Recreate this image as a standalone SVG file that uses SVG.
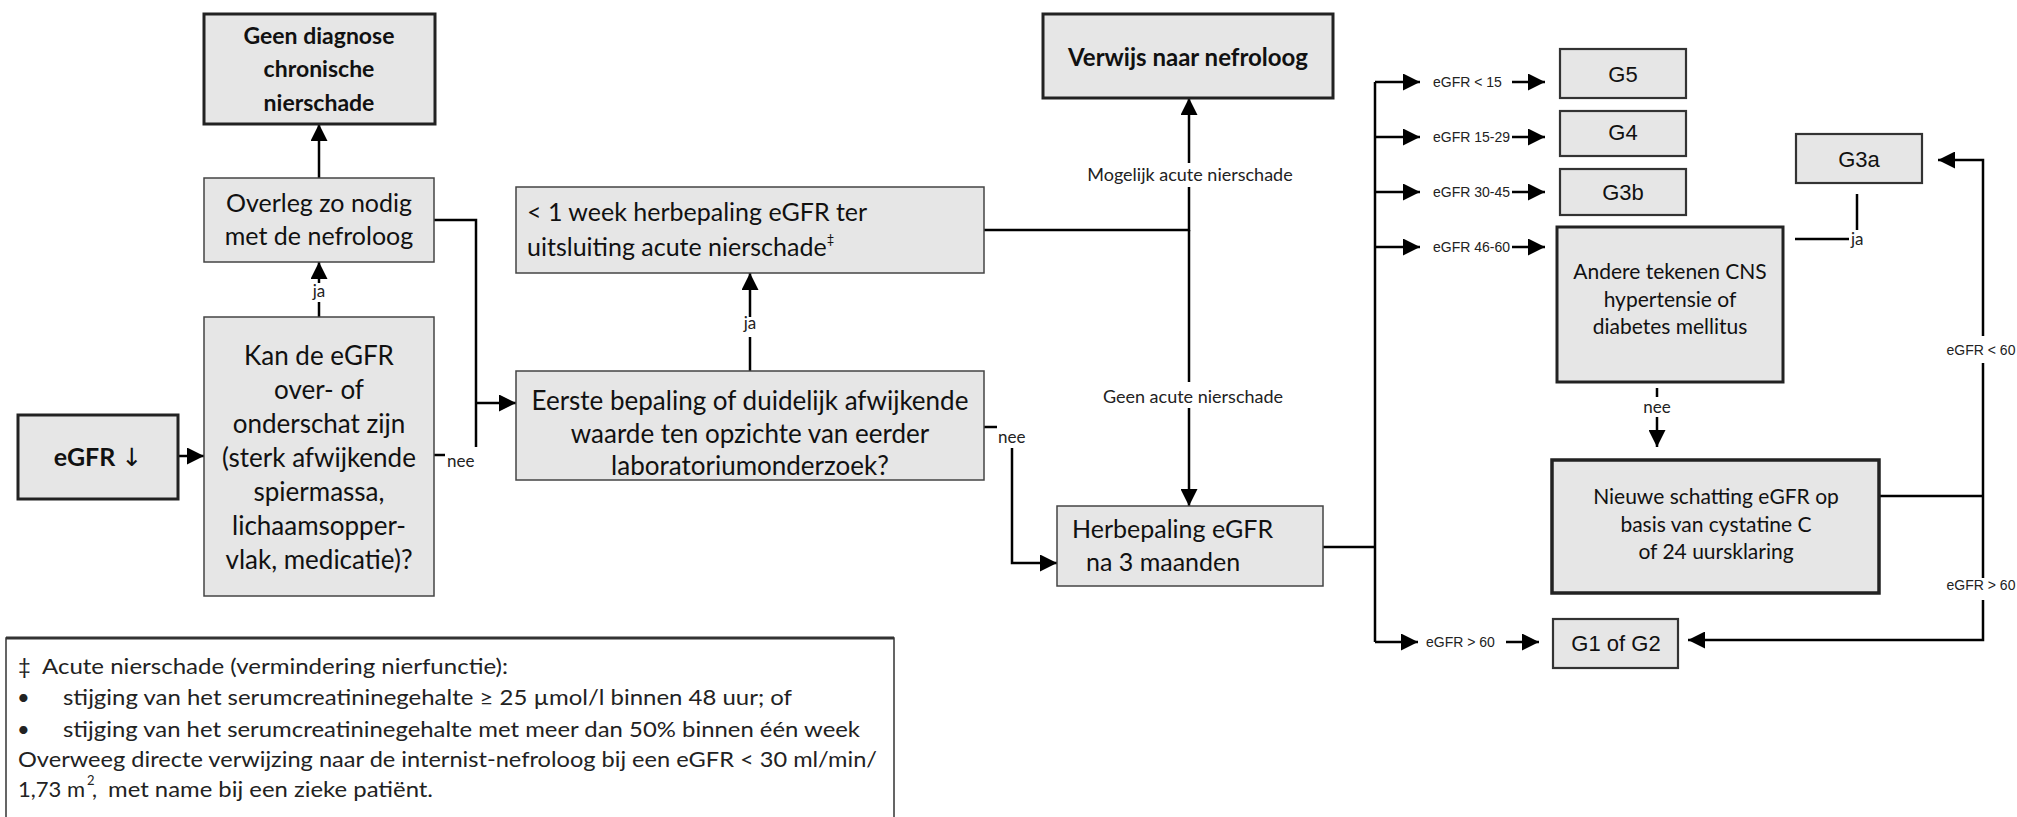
<svg xmlns="http://www.w3.org/2000/svg" width="2017" height="817" viewBox="0 0 2017 817">
<defs>
<marker id="ah" viewBox="0 0 10 10" refX="10" refY="5" markerWidth="17" markerHeight="17" markerUnits="userSpaceOnUse" orient="auto"><path d="M0,0 L10,5 L0,10 z" fill="#000"/></marker>
<style>
.box{fill:#e6e6e6;stroke:#444;stroke-width:1.5}
.bk{fill:#e6e6e6;stroke:#222;stroke-width:3}
.bm{fill:#e6e6e6;stroke:#333;stroke-width:2.2}
text{font-family:Lato,"Liberation Sans",sans-serif;fill:#111}
.t24{font-size:25px}
.t25{font-size:26px}
.t20{font-size:21px}
.bold{font-weight:bold}
.c{text-anchor:middle}
.lbl{font-size:17px;fill:#222}
.sm{font-size:14px;fill:#222;font-family:"Liberation Sans",Arial,sans-serif}
.g{font-size:22px;font-family:"Liberation Sans",Arial,sans-serif}
.fn{font-size:22px;fill:#222}
.ln{fill:none;stroke:#000;stroke-width:2.5}
.arr{fill:none;stroke:#000;stroke-width:2.5;marker-end:url(#ah)}
</style>
</defs>
<rect x="0" y="0" width="2017" height="817" fill="#fff"/>

<g id="connectors">
<path class="arr" d="M319,178 V124"/>
<path class="ln" d="M319,317 V302"/>
<path class="arr" d="M319,283 V262"/>
<text class="lbl c" x="319" y="297">ja</text>
<path class="arr" d="M178,456 H204"/>
<path class="ln" d="M434,220 H476 V447"/>
<path class="ln" d="M434,455 H445"/>
<text class="lbl" x="447" y="467">nee</text>
<path class="arr" d="M476,403 H516"/>
<path class="ln" d="M750,371 V337"/>
<path class="arr" d="M750,317 V273"/>
<text class="lbl c" x="750" y="329">ja</text>
<path class="ln" d="M984,230 H1189 V187"/>
<path class="arr" d="M1189,163 V98"/>
<text class="lbl c" x="1190" y="181" style="font-size:18px">Mogelijk acute nierschade</text>
<path class="ln" d="M1189,230 V382"/>
<path class="arr" d="M1189,408 V506"/>
<text class="lbl c" x="1193" y="403" style="font-size:18px">Geen acute nierschade</text>
<path class="ln" d="M984,427 H997"/>
<text class="lbl" x="998" y="443">nee</text>
<path class="arr" d="M1012,448 V563 H1057"/>
<path class="ln" d="M1323,547 H1375"/>
<path class="ln" d="M1375,82 V642"/>
<path class="arr" d="M1375,82 H1420"/>
<path class="arr" d="M1375,137 H1420"/>
<path class="arr" d="M1375,192 H1420"/>
<path class="arr" d="M1375,247 H1420"/>
<path class="arr" d="M1375,642 H1418"/>
<text class="sm" x="1433" y="87">eGFR &lt; 15</text>
<text class="sm" x="1433" y="142">eGFR 15-29</text>
<text class="sm" x="1433" y="197">eGFR 30-45</text>
<text class="sm" x="1433" y="252">eGFR 46-60</text>
<text class="sm" x="1426" y="647">eGFR &gt; 60</text>
<path class="arr" d="M1512,82 H1545"/>
<path class="arr" d="M1512,137 H1545"/>
<path class="arr" d="M1512,192 H1545"/>
<path class="arr" d="M1512,247 H1545"/>
<path class="arr" d="M1506,642 H1539"/>
<path class="ln" d="M1795,239 H1849"/>
<path class="ln" d="M1857,230 V194"/>
<text class="lbl" x="1851" y="245">ja</text>
<path class="ln" d="M1657,388 V397"/>
<text class="lbl c" x="1657" y="413">nee</text>
<path class="arr" d="M1657,417 V447"/>
<path class="ln" d="M1879,496 H1983"/>
<path class="arr" d="M1983,336 V160 H1938"/>
<text class="sm c" x="1981" y="355">eGFR &lt; 60</text>
<path class="ln" d="M1983,363 V578"/>
<text class="sm c" x="1981" y="590">eGFR &gt; 60</text>
<path class="arr" d="M1983,600 V640 H1688"/>
</g>

<g id="n-geen">
<rect class="bk" x="204" y="14" width="231" height="110"/>
<text class="bold c" style="font-size:23px" x="319" y="44">Geen diagnose</text>
<text class="bold c" style="font-size:23px" x="319" y="77">chronische</text>
<text class="bold c" style="font-size:23px" x="319" y="111">nierschade</text>
</g>
<g id="n-overleg">
<rect class="box" x="204" y="178" width="230" height="84"/>
<text class="t24 c" x="319" y="212">Overleg zo nodig</text>
<text class="t24 c" x="319" y="245">met de nefroloog</text>
</g>
<g id="n-kan">
<rect class="box" x="204" y="317" width="230" height="279"/>
<text class="t25 c" x="319" y="365">Kan de eGFR</text>
<text class="t25 c" x="319" y="399">over- of</text>
<text class="t25 c" x="319" y="433">onderschat zijn</text>
<text class="t25 c" x="319" y="467">(sterk afwijkende</text>
<text class="t25 c" x="319" y="501">spiermassa,</text>
<text class="t25 c" x="319" y="535">lichaamsopper-</text>
<text class="t25 c" x="319" y="569">vlak, medicatie)?</text>
</g>
<g id="n-egfr">
<rect class="bk" x="18" y="415" width="160" height="84"/>
<text class="bold c" style="font-size:25px" x="98" y="466">eGFR <tspan style="font-family:'DejaVu Sans',sans-serif;font-weight:normal">↓</tspan></text>
</g>
<g id="n-week">
<rect class="box" x="516" y="187" width="468" height="86"/>
<text class="t24" x="527" y="221">&lt; 1 week herbepaling eGFR ter</text>
<text class="t24" x="527" y="256">uitsluiting acute nierschade<tspan style="font-size:13px" dy="-12">‡</tspan></text>
</g>
<g id="n-eerste">
<rect class="box" x="516" y="371" width="468" height="109"/>
<text class="t25 c" x="750" y="410">Eerste bepaling of duidelijk afwijkende</text>
<text class="t25 c" x="750" y="443">waarde ten opzichte van eerder</text>
<text class="t25 c" x="750" y="475">laboratoriumonderzoek?</text>
</g>
<g id="n-verwijs">
<rect class="bk" x="1043" y="14" width="290" height="84"/>
<text class="bold c" style="font-size:24px" x="1188" y="66">Verwijs naar nefroloog</text>
</g>
<g id="n-herbepaling">
<rect class="box" x="1057" y="506" width="266" height="80"/>
<text class="t24" x="1072" y="538">Herbepaling eGFR</text>
<text class="t24" x="1086" y="571">na 3 maanden</text>
</g>
<g id="n-g5">
<rect class="bm" x="1560" y="49" width="126" height="49"/>
<text class="g c" x="1623" y="82">G5</text>
</g>
<g id="n-g4">
<rect class="bm" x="1560" y="111" width="126" height="45"/>
<text class="g c" x="1623" y="140">G4</text>
</g>
<g id="n-g3b">
<rect class="bm" x="1560" y="169" width="126" height="46"/>
<text class="g c" x="1623" y="200">G3b</text>
</g>
<g id="n-andere">
<rect class="bk" x="1557" y="227" width="226" height="155"/>
<text class="t20 c" x="1670" y="279">Andere  tekenen CNS</text>
<text class="t20 c" x="1670" y="307">hypertensie of</text>
<text class="t20 c" x="1670" y="334">diabetes mellitus</text>
</g>
<g id="n-g3a">
<rect class="bm" x="1796" y="134" width="126" height="49"/>
<text class="g c" x="1859" y="167">G3a</text>
</g>
<g id="n-nieuwe">
<rect class="bk" x="1552" y="460" width="327" height="133" style="stroke-width:3.5"/>
<text class="t20 c" x="1716" y="504">Nieuwe schatting eGFR op</text>
<text class="t20 c" x="1716" y="532">basis van cystatine C</text>
<text class="t20 c" x="1716" y="559">of 24 uursklaring</text>
</g>
<g id="n-g1g2">
<rect class="bm" x="1553" y="619" width="125" height="49"/>
<text class="g c" x="1616" y="651">G1 of G2</text>
</g>

<g id="footnote">
<rect x="6" y="638" width="888" height="200" fill="#fff" stroke="#333" stroke-width="1.5"/>
<line x1="6" y1="638" x2="894" y2="638" stroke="#333" stroke-width="3"/>
<text class="fn" x="18" y="674">‡</text>
<text class="fn" x="42" y="674" textLength="466" lengthAdjust="spacingAndGlyphs">Acute nierschade (vermindering nierfunctie):</text>
<text class="fn" x="17" y="705">•</text>
<text class="fn" x="63" y="705" textLength="729" lengthAdjust="spacingAndGlyphs">stijging van het serumcreatininegehalte ≥  25 µmol/l binnen 48 uur; of</text>
<text class="fn" x="17" y="737">•</text>
<text class="fn" x="63" y="737" textLength="797" lengthAdjust="spacingAndGlyphs">stijging van het serumcreatininegehalte met meer dan 50% binnen één week</text>
<text class="fn" x="18" y="767" textLength="859" lengthAdjust="spacingAndGlyphs">Overweeg directe verwijzing naar de internist-nefroloog bij een eGFR &lt; 30 ml/min/</text>
<text class="fn" x="18" y="797" textLength="67" lengthAdjust="spacingAndGlyphs">1,73 m</text>
<text class="fn" x="87" y="785" style="font-size:13px">2</text>
<text class="fn" x="92" y="797">,</text>
<text class="fn" x="108" y="797" textLength="325" lengthAdjust="spacingAndGlyphs">met name bij een zieke patiënt.</text>
</g>
</svg>
